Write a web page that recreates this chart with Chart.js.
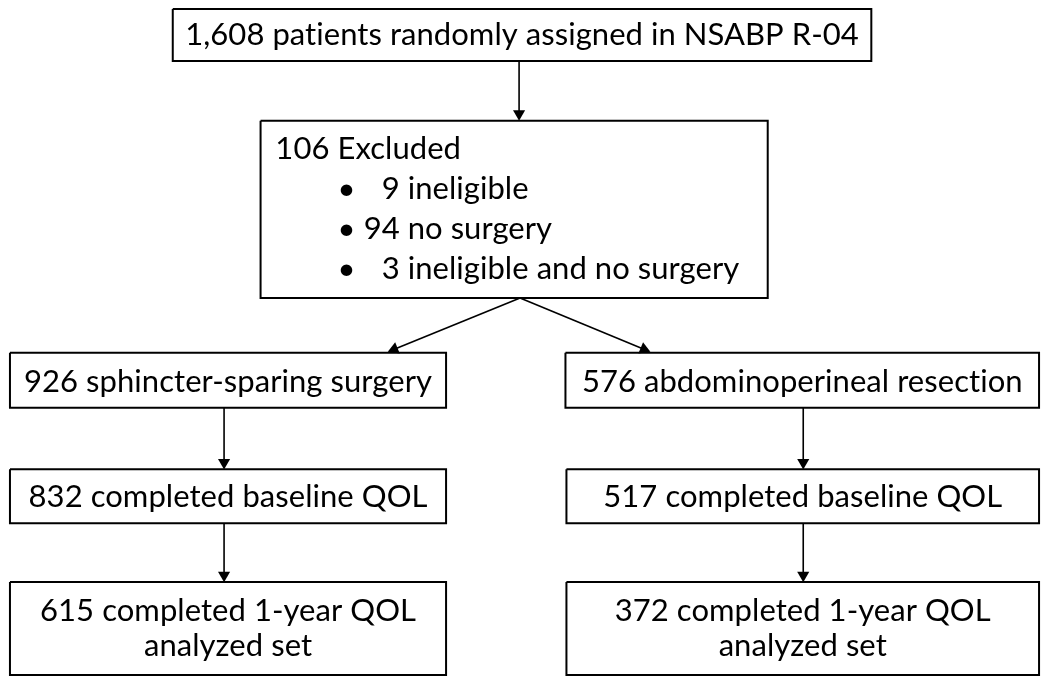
<!DOCTYPE html>
<html>
<head>
<meta charset="utf-8">
<script src="https://cdn.jsdelivr.net/npm/chart.js@4.4.1/dist/chart.umd.min.js"></script>
<style>
  html, body { margin: 0; padding: 0; background: #fff; }
  #wrap { width: 1050px; height: 685px; }
</style>
</head>
<body>
<div id="wrap"><canvas id="flowChart"></canvas></div>
<script>
// counts
const randomizedCount = 1608;
const randomizedLabel = 'patients randomly assigned in NSABP R-04';
const excludedCount = 106;
const excludedLabel = 'Excluded';
const exclusionCounts = [9, 94, 3];
const exclusionReasons = ['ineligible', 'no surgery', 'ineligible and no surgery'];
const armLabels = ['sphincter-sparing surgery', 'abdominoperineal resection'];
const armCounts = [926, 576];
const baselineCounts = [832, 517];
const baselineLabel = 'completed baseline QOL';
const oneYearCounts = [615, 372];
const oneYearLines = ['completed 1-year QOL', 'analyzed set'];

// layout, in the chart's own units (x 0..1050, y 0..685 top-down)
const FONT = '"Lato", "Open Sans", sans-serif';
const FONT_SIZE = 31;
const topBox = { x0: 168, x1: 876, y0: 2, y1: 55 };
const exclBox = { x0: 257, x1: 771, y0: 116, y1: 297 };
const armBoxes = [{ x0: 3, x1: 445, y0: 353, y1: 409 }, { x0: 566, x1: 1046, y0: 353, y1: 409 }];
const baseBoxes = [{ x0: 3, x1: 445, y0: 472, y1: 527 }, { x0: 567, x1: 1046, y0: 472, y1: 527 }];
const yearBoxes = [{ x0: 3, x1: 445, y0: 587, y1: 682 }, { x0: 567, x1: 1046, y0: 587, y1: 682 }];
const armX = [220, 807];
const arrows = [
  [{ x: 519, y: 55 }, { x: 519, y: 116 }],
  [{ x: 520, y: 297 }, { x: 386, y: 352 }],
  [{ x: 520, y: 297 }, { x: 652, y: 352 }],
  [{ x: armX[0], y: 409 }, { x: armX[0], y: 472 }],
  [{ x: armX[1], y: 409 }, { x: armX[1], y: 472 }],
  [{ x: armX[0], y: 527 }, { x: armX[0], y: 587 }],
  [{ x: armX[1], y: 527 }, { x: armX[1], y: 587 }]
];
const HEAD = 7;

function boxPath(b) {
  return [
    { x: b.x0, y: b.y0 }, { x: b.x1, y: b.y0 },
    { x: b.x1, y: b.y1 }, { x: b.x0, y: b.y1 }, { x: b.x0, y: b.y0 }
  ];
}

const allBoxes = [topBox, exclBox, ...armBoxes, ...baseBoxes, ...yearBoxes];
const datasets = allBoxes.map(b => ({
  data: boxPath(b),
  showLine: true,
  borderColor: '#000',
  borderWidth: 2,
  pointRadius: 0,
  fill: false
}));

arrows.forEach(([a, b]) => {
  const dx = b.x - a.x, dy = b.y - a.y;
  const len = Math.sqrt(dx * dx + dy * dy);
  // pull the marker back so the triangle tip lands on the box edge
  const end = { x: b.x - dx / len * HEAD, y: b.y - dy / len * HEAD };
  const angle = Math.atan2(dx, -dy) * 180 / Math.PI;
  datasets.push({
    data: [a, end],
    showLine: true,
    borderColor: '#000',
    borderWidth: 1.6,
    backgroundColor: '#000',
    pointStyle: 'triangle',
    pointRadius: [0, HEAD],
    pointBorderWidth: 0,
    pointRotation: [0, angle],
    fill: false
  });
});

const fmt = n => n.toLocaleString('en-US');

const flowText = {
  id: 'flowText',
  afterDatasetsDraw(chart) {
    const { ctx, scales: { x, y } } = chart;
    const px = v => x.getPixelForValue(v);
    const py = v => y.getPixelForValue(v);
    ctx.save();
    ctx.fillStyle = '#000';
    ctx.font = FONT_SIZE + 'px ' + FONT;
    ctx.textBaseline = 'alphabetic';
    // tiny spacing keeps Lato from joining "ti" into a ligature
    ctx.letterSpacing = '0.05px';

    const centered = (txt, b, base) => {
      ctx.textAlign = 'center';
      ctx.fillText(txt, px((b.x0 + b.x1) / 2), py(base));
    };

    centered(fmt(randomizedCount) + ' ' + randomizedLabel, topBox, 39);

    ctx.textAlign = 'left';
    ctx.fillText(excludedCount + ' ' + excludedLabel, px(272), py(155));
    const space = ctx.measureText(' ').width;
    exclusionCounts.forEach((c, i) => {
      const base = 196 + i * 41;
      ctx.textAlign = 'center';
      ctx.fillText('\u2022', px(344), py(base));
      ctx.textAlign = 'right';
      ctx.fillText(String(c), px(398), py(base));
      ctx.textAlign = 'left';
      ctx.fillText(exclusionReasons[i], px(398) + space, py(base));
    });

    armBoxes.forEach((b, i) => centered(armCounts[i] + ' ' + armLabels[i], b, 393));
    baseBoxes.forEach((b, i) => centered(baselineCounts[i] + ' ' + baselineLabel, b, 510));
    yearBoxes.forEach((b, i) => {
      centered(oneYearCounts[i] + ' ' + oneYearLines[0], b, 627);
      centered(oneYearLines[1], b, 663);
    });
    ctx.restore();
  }
};

new Chart(document.getElementById('flowChart'), {
  type: 'scatter',
  data: { datasets },
  options: {
    responsive: true,
    maintainAspectRatio: false,
    animation: false,
    layout: { padding: 0 },
    plugins: { legend: { display: false }, tooltip: { enabled: false } },
    scales: {
      x: { type: 'linear', min: 0, max: 1050, display: false },
      y: { type: 'linear', min: 0, max: 685, reverse: true, display: false }
    }
  },
  plugins: [flowText]
});
</script>
</body>
</html>
